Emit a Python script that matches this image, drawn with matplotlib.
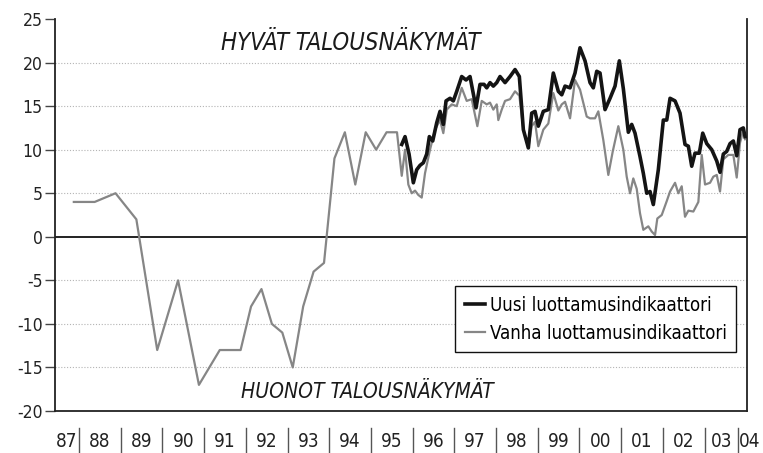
import matplotlib
matplotlib.use('Agg')
import matplotlib.pyplot as plt
from matplotlib import font_manager
import matplotlib.transforms as mtransforms

# ---------------- data ----------------
old_years = [1987.875, 1988.375, 1988.875, 1989.375, 1989.875, 1990.375, 1990.875, 1991.375,
             1991.875, 1992.125, 1992.375, 1992.625, 1992.875, 1993.125, 1993.375, 1993.625,
             1993.875, 1994.125, 1994.375, 1994.625, 1994.875, 1995.125, 1995.375, 1995.625,
             1995.739, 1995.818, 1995.897, 1995.978, 1996.058, 1996.137, 1996.218, 1996.297,
             1996.417, 1996.537, 1996.657, 1996.736, 1996.818, 1996.937, 1997.058, 1997.177,
             1997.297, 1997.417, 1997.552, 1997.657, 1997.777, 1997.856, 1997.935, 1998.017,
             1998.055, 1998.137, 1998.216, 1998.336, 1998.456, 1998.559, 1998.655, 1998.775,
             1998.856, 1998.935, 1999.014, 1999.134, 1999.254, 1999.374, 1999.494, 1999.576,
             1999.655, 1999.775, 1999.894, 2000.014, 2000.175, 2000.254, 2000.374, 2000.453,
             2000.573, 2000.693, 2000.799, 2000.933, 2001.053, 2001.134, 2001.213, 2001.292,
             2001.374, 2001.453, 2001.532, 2001.652, 2001.734, 2001.813, 2001.868, 2001.974,
             2002.094, 2002.173, 2002.293, 2002.372, 2002.453, 2002.532, 2002.612, 2002.732,
             2002.852, 2002.933, 2003.012, 2003.132, 2003.211, 2003.293, 2003.372, 2003.451,
             2003.571, 2003.691, 2003.772, 2003.851, 2003.930, 2003.971]
old_values = [4, 4, 5, 2, -13, -5, -17, -13,
              -13, -8, -6, -10, -11, -15, -8, -4,
              -3, 9, 12, 6, 12, 10, 12, 12,
              7.0, 10.0, 6.0, 5.0, 5.3, 4.8, 4.5, 7.3,
              10.0, 12.3, 13.4, 11.9, 14.6, 15.2, 15.0, 17.1,
              15.6, 15.8, 12.7, 15.6, 15.2, 15.4, 14.6, 15.2,
              13.4, 14.6, 15.6, 15.8, 16.7, 16.2, 12.3, 10.2,
              12.7, 13.2, 10.4, 12.3, 13.0, 16.5, 14.5, 15.2,
              15.5, 13.6, 18.0, 16.9, 13.8, 13.6, 13.6, 14.4,
              11.1, 7.1, 9.8, 12.7, 10.0, 6.9, 5.0, 6.7,
              5.5, 2.7, 0.8, 1.2, 0.6, 0.2, 2.1, 2.5,
              4.1, 5.2, 6.2, 5.0, 5.8, 2.3, 3.0, 2.9,
              4.0, 9.4, 6.0, 6.2, 6.9, 7.1, 5.2, 8.9,
              9.4, 9.4, 6.8, 10.8, 12.2, 11.2]

new_years = [1995.739, 1995.818, 1995.914, 1996.017, 1996.098, 1996.177, 1996.257, 1996.338,
             1996.401, 1996.482, 1996.578, 1996.657, 1996.736, 1996.801, 1996.897, 1996.976,
             1997.058, 1997.177, 1997.281, 1997.376, 1997.520, 1997.616, 1997.712, 1997.777,
             1997.856, 1997.935, 1998.017, 1998.096, 1998.216, 1998.336, 1998.456, 1998.559,
             1998.655, 1998.775, 1998.856, 1998.935, 1999.014, 1999.134, 1999.254, 1999.374,
             1999.494, 1999.576, 1999.655, 1999.775, 1999.894, 2000.014, 2000.134, 2000.254,
             2000.333, 2000.415, 2000.494, 2000.614, 2000.734, 2000.854, 2000.957, 2001.053,
             2001.173, 2001.254, 2001.333, 2001.453, 2001.532, 2001.614, 2001.693, 2001.772,
             2001.892, 2002.012, 2002.094, 2002.173, 2002.293, 2002.412, 2002.532, 2002.612,
             2002.693, 2002.772, 2002.875, 2002.957, 2003.053, 2003.173, 2003.293, 2003.372,
             2003.451, 2003.532, 2003.612, 2003.691, 2003.772, 2003.851, 2003.930, 2003.971]
new_values = [10.6, 11.5, 9.5, 6.2, 7.7, 8.2, 8.5, 9.5,
              11.5, 11.0, 13.1, 14.4, 12.9, 15.6, 15.9, 15.6,
              16.7, 18.4, 18.0, 18.4, 14.8, 17.5, 17.5, 17.1,
              17.7, 17.3, 17.7, 18.4, 17.7, 18.4, 19.2, 18.4,
              12.3, 10.2, 14.2, 14.4, 12.7, 14.4, 14.6, 18.8,
              16.7, 16.3, 17.3, 17.1, 18.8, 21.7, 20.2, 17.7,
              17.1, 19.0, 18.8, 14.6, 15.9, 17.3, 20.2, 17.0,
              12.0, 12.9, 11.9, 9.2, 7.3, 5.0, 5.2, 3.7,
              7.7, 13.4, 13.4, 15.9, 15.6, 14.2, 10.6, 10.4,
              8.1, 9.6, 9.6, 11.9, 10.7, 10.0, 8.7, 7.4,
              9.5, 9.8, 10.7, 11.0, 9.3, 12.3, 12.5, 11.5]

year_labels = ['87', '88', '89', '90', '91', '92', '93', '94', '95', '96',
               '97', '98', '99', '00', '01', '02', '03', '04']
label_years = list(range(1987, 2005))
y_ticks = [25, 20, 15, 10, 5, 0, -5, -10, -15, -20]
legend_labels = ['Uusi luottamusindikaattori', 'Vanha luottamusindikaattori']
top_text = 'HYVÄT TALOUSNÄKYMÄT'
bottom_text = 'HUONOT TALOUSNÄKYMÄT'

# ---------------- fonts ----------------
entries = font_manager.fontManager.ttflist
names = {f.name for f in entries}
stretch = 'normal'
if 'Liberation Sans Narrow' in names:
    fam = ['Liberation Sans Narrow', 'DejaVu Sans']
    scale = 1.0
else:
    fam = ['DejaVu Sans']
    if any(f.name == 'DejaVu Sans' and str(f.stretch) in ('condensed', 'semi-condensed')
           for f in entries):
        stretch = 'condensed'
        scale = 0.97
    else:
        scale = 0.92
plt.rcParams['font.family'] = fam
plt.rcParams['font.stretch'] = stretch

fig = plt.figure(figsize=(7.63, 4.53), dpi=100)
ax = fig.add_axes([0.0721, 0.0927, 0.9063, 0.8653])

x_left, x_right = 1987.424, 2004.007
ax.set_xlim(x_left, x_right)
ax.set_ylim(-20, 25)

# grid lines
for v in y_ticks:
    if v in (25, -20, 0):
        continue
    ax.axhline(v, color='#b4b4b4', lw=0.8, ls=(0, (1, 1.6)), zorder=1)
ax.axhline(0, color='#111111', lw=1.3, zorder=2)

gray_line, = ax.plot(old_years, old_values, color='#868686', lw=1.6,
                     solid_joinstyle='round', zorder=3)
black_line, = ax.plot(new_years, new_values, color='#141414', lw=2.6,
                      solid_joinstyle='round', zorder=4)

for s in ['left', 'bottom', 'right']:
    ax.spines[s].set_color('#222222')
    ax.spines[s].set_linewidth(1.3)
ax.spines['top'].set_visible(False)

ax.set_yticks(y_ticks)
ax.set_yticklabels([str(v) for v in y_ticks], fontsize=13 * scale, color='#222222',
                   fontstretch=stretch)
ax.tick_params(axis='y', direction='out', length=7, width=1, color='#444444', pad=2)
ax.set_xticks([])

trans = mtransforms.blended_transform_factory(ax.transData, ax.transAxes)
for yr, lab in zip(label_years, year_labels):
    if yr == label_years[0]:
        xpos = (x_left + yr + 1) / 2
    elif yr == label_years[-1]:
        xpos = yr + 0.08
    elif yr == label_years[-2]:
        xpos = yr + 0.4
    else:
        xpos = yr + 0.5
    ax.text(xpos, -0.077, lab, transform=trans, ha='center', va='center',
            fontsize=14 * scale, color='#222222', clip_on=False, fontstretch=stretch)
sep_years = label_years[1:-1] + [label_years[-2] + 0.8]
for sx in sep_years:
    ax.plot([sx, sx], [-0.043, -0.105], transform=trans, color='#555555',
            lw=1.0, clip_on=False)

ax.text(1994.52, 22.3, top_text, ha='center', va='center', fontsize=17.6 * scale,
        style='italic', color='#1a1a1a', fontstretch=stretch)
ax.text(1994.92, -17.8, bottom_text, ha='center', va='center', fontsize=15.6 * scale,
        style='italic', color='#1a1a1a', fontstretch=stretch)

leg = ax.legend([black_line, gray_line], legend_labels, loc='lower right',
                bbox_to_anchor=(0.985, 0.15),
                prop={'size': 13.8 * scale, 'stretch': stretch},
                frameon=True, fancybox=False, framealpha=1, edgecolor='#111111',
                handlelength=1.1, handletextpad=0.25, borderpad=0.5,
                labelspacing=0.5, borderaxespad=0.0)
leg.get_frame().set_linewidth(1.0)

fig.savefig('out.png', dpi=100)
